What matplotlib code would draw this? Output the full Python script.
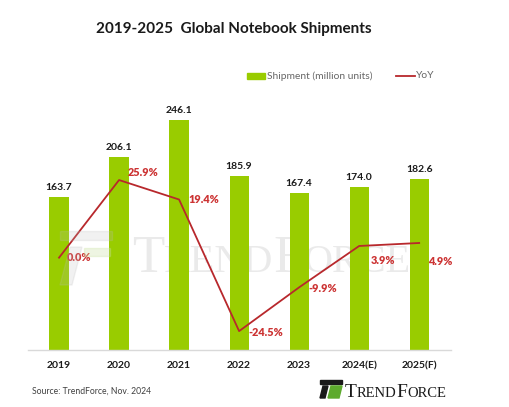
import matplotlib
matplotlib.use("Agg")
import matplotlib.pyplot as plt
from matplotlib.patches import Rectangle, Polygon
from matplotlib.lines import Line2D

plt.rcParams["font.family"] = ["Lato", "DejaVu Sans"]

# 数据
years = ["2019", "2020", "2021", "2022", "2023", "2024(E)", "2025(F)"]
shipments = [163.7, 206.1, 246.1, 185.9, 167.4, 174.0, 182.6]
yoy = [0.0, 25.9, 19.4, -24.5, -9.9, 3.9, 4.9]
# 标签偏移（像素）
yoy_offsets = [(8, 0), (9, 8), (9, 0), (9, -1), (9, -1), (12, -15), (9, -19)]

GREEN = "#99CC00"
LINE_RED = "#B8282C"
LABEL_RED = "#CC3333"

fig = plt.figure(figsize=(5.10, 4.07), dpi=100)
W, H = 510, 407
# axes: x 28..451 px, y 100..350 px
ax = fig.add_axes([28 / W, 1 - 350 / H, (451 - 28) / W, 250 / H])
ax2 = ax.twinx()
ax.set_zorder(1)
ax2.set_zorder(2)
ax.patch.set_visible(False)
ax2.patch.set_visible(False)

x = list(range(len(years)))
ax.bar(x, shipments, width=0.32, color=GREEN, zorder=2)
ax.set_ylim(0, 250 / 0.935)
ax.set_xlim(-0.517, 6.53)
for xi, v in zip(x, shipments):
    ax.annotate(f"{v:.1f}", (xi, v), xytext=(0, 5), textcoords="offset pixels",
                ha="center", va="bottom", fontsize=7.5, fontweight="bold",
                color="#1a1a1a")

ax2.plot(x, yoy, color=LINE_RED, linewidth=1.3, zorder=3)
ax2.set_ylim(-30.8, 52.6)
for xi, v, off in zip(x, yoy, yoy_offsets):
    ax2.annotate(f"{v:.1f}%", (xi, v), xytext=off, textcoords="offset pixels",
                 ha="left", va="center", fontsize=7.8, fontweight="heavy",
                 color=LABEL_RED)

ax.set_xticks(x)
ax.set_xticklabels(years, fontsize=7.5, fontweight="bold", color="#1a1a1a")
ax.tick_params(axis="x", length=0, pad=8)
ax.set_yticks([])
ax2.set_yticks([])
for a in (ax, ax2):
    for s in ("top", "left", "right"):
        a.spines[s].set_visible(False)
ax.spines["bottom"].set_color("#D9D9D9")
ax.spines["bottom"].set_linewidth(1.0)
ax2.spines["bottom"].set_visible(False)

# 标题
fig.text(234 / W, 1 - 29 / H, "2019-2025  Global Notebook Shipments",
         ha="center", va="center", fontsize=11, fontweight="bold",
         color="#1a1a1a")

# 图例
fig.patches.append(Rectangle((247 / W, 1 - 79 / H), 18 / W, 6 / H,
                             transform=fig.transFigure, color=GREEN))
fig.text(267 / W, 1 - 76 / H, "Shipment (million units)", ha="left",
         va="center", fontsize=7.4, color="#666666")
fig.lines.append(Line2D([396 / W, 415 / W], [1 - 76 / H, 1 - 76 / H],
                        transform=fig.transFigure, color=LINE_RED, lw=1.3))
fig.text(416 / W, 1 - 76 / H, "YoY", ha="left", va="center", fontsize=7.4,
         color="#666666")


# 水印 / logo 文字（小型大写）
def small_caps(x0, y0, big, small, color, alpha, zorder):
    parts = [("T", big), ("REND", small), ("F", big), ("ORCE", small)]
    xx = x0
    r = fig.canvas.get_renderer()
    for txt, fs in parts:
        t = fig.text(xx, y0, txt, ha="left", va="baseline", fontsize=fs,
                     family=["Liberation Serif"], color=color, alpha=alpha,
                     zorder=zorder, transform=fig.transFigure)
        bb = t.get_window_extent(renderer=r)
        xx += bb.width / W
    return xx


small_caps(132 / W, 1 - 272 / H, 38, 29, "#999999", 0.2, 0)
# 水印图标
wm = "#BBBBBB"
fig.patches.append(Rectangle((60 / W, 1 - 240 / H), 52 / W, 9 / H,
                             transform=fig.transFigure, color=wm, alpha=0.2,
                             zorder=5))
fig.patches.append(Polygon([(60 / W, 1 - 285 / H), (70 / W, 1 - 247 / H),
                            (82 / W, 1 - 247 / H), (72 / W, 1 - 285 / H)],
                           closed=True, transform=fig.transFigure, color=wm,
                           alpha=0.2, zorder=5))
fig.patches.append(Rectangle((84 / W, 1 - 256 / H), 26 / W, 8 / H,
                             transform=fig.transFigure, color="#C8E0A0",
                             alpha=0.3, zorder=5))

# 来源
fig.text(32 / W, 1 - 391 / H, "Source: TrendForce, Nov. 2024", ha="left",
         va="center", fontsize=6.2, color="#404040")

# Logo
fig.patches.append(Rectangle((320 / W, 1 - 384 / H), 22 / W, 4 / H,
                             transform=fig.transFigure, color="#1a1a1a"))
fig.patches.append(Polygon([(320 / W, 1 - 398 / H), (323 / W, 1 - 386 / H),
                            (328 / W, 1 - 386 / H), (325 / W, 1 - 398 / H)],
                           closed=True, transform=fig.transFigure,
                           color="#1a1a1a"))
fig.patches.append(Polygon([(328 / W, 1 - 398 / H), (331 / W, 1 - 386 / H),
                            (342 / W, 1 - 386 / H), (339 / W, 1 - 398 / H)],
                           closed=True, transform=fig.transFigure,
                           color="#5DAA2D"))
small_caps(345 / W, 1 - 397 / H, 14, 10.5, "#1a1a1a", 1.0, 5)

fig.savefig("out.png", dpi=100)
